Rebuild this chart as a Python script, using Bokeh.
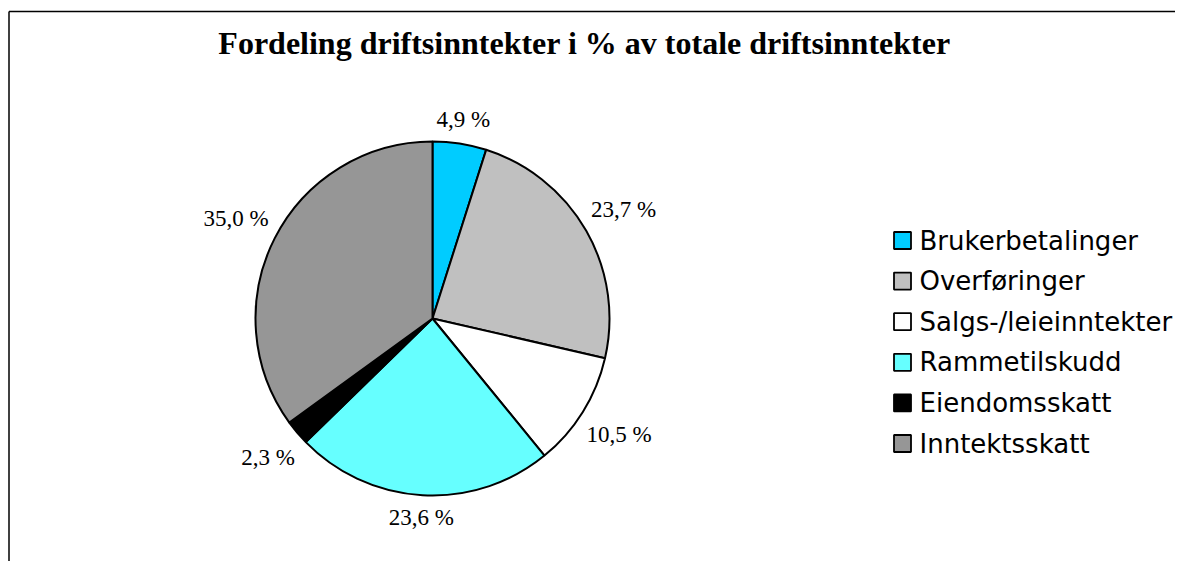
import math
from bokeh.plotting import figure
from bokeh.models import Range1d, ColumnDataSource
from bokeh.core.properties import value
from bokeh.embed import file_html
from bokeh.resources import INLINE

# ---- data ----
categories = ["Brukerbetalinger", "Overføringer", "Salgs-/leieinntekter",
              "Rammetilskudd", "Eiendomsskatt", "Inntektsskatt"]
shares = [4.9, 23.7, 10.5, 23.6, 2.3, 35.0]
colors = ["#00CCFF", "#C0C0C0", "#FFFFFF", "#66FFFF", "#000000", "#969696"]
title_text = "Fordeling driftsinntekter i % av totale driftsinntekter"

W, H = 1175, 561
p = figure(width=W, height=H, output_backend="svg", toolbar_location=None,
           x_range=Range1d(0, W), y_range=Range1d(0, H),
           x_axis_location=None, y_axis_location=None, min_border=0)
p.grid.visible = False
p.outline_line_color = None
p.background_fill_color = "white"
p.border_fill_color = "white"

# chart frame (only left and top edges visible in reference)
p.segment(x0=[8.5, 8.5], y0=[-20, H - 11], x1=[8.5, W], y1=[H - 11, H - 11],
          line_color="black", line_width=1.5, line_cap="butt")

# pie geometry
cx, cy, r = 432, H - 318, 177
total = sum(shares)
starts, ends, mids = [], [], []
cum = 0.0
for s in shares:
    a0 = math.pi / 2 - 2 * math.pi * cum / total
    cum += s
    a1 = math.pi / 2 - 2 * math.pi * cum / total
    starts.append(a0)
    ends.append(a1)
    mids.append((a0 + a1) / 2)

src = ColumnDataSource(dict(start=starts, end=ends, color=colors))
p.wedge(x=cx, y=cy, radius=r, start_angle="start", end_angle="end",
        direction="clock", fill_color="color", line_color="black",
        line_width=2, source=src)

# percentage labels
labels = [("%.1f %%" % s).replace(".", ",") for s in shares]
lx, ly = [], []
for m, lab in zip(mids, labels):
    hw = 3.8 * len(lab) + 6
    d = r + 15 + abs(math.cos(m)) * hw + abs(math.sin(m)) * 6
    lx.append(cx + d * math.cos(m))
    ly.append(cy + d * math.sin(m))
p.text(x=lx, y=ly, text=labels, text_align="center", text_baseline="middle",
       text_font=value("Liberation Serif"), text_font_size="23px",
       text_color="black")

# title
p.text(x=[584], y=[H - 42], text=[title_text], text_align="center",
       text_baseline="alphabetic", text_font=value("Liberation Serif"),
       text_font_style="bold", text_font_size="32px", text_color="black")

# legend
leg_x = 902
leg_y0 = H - 240
step = 40.6
ys = [leg_y0 - i * step for i in range(len(categories))]
p.rect(x=[leg_x] * len(categories), y=ys, width=17, height=17,
       fill_color=colors, line_color="black", line_width=1.8)
p.text(x=[leg_x + 17] * len(categories), y=ys, text=categories,
       text_align="left", text_baseline="middle",
       text_font=value("DejaVu Sans"), text_font_size="26px",
       text_color="black")

open("out.html", "w").write(file_html(p, INLINE))
